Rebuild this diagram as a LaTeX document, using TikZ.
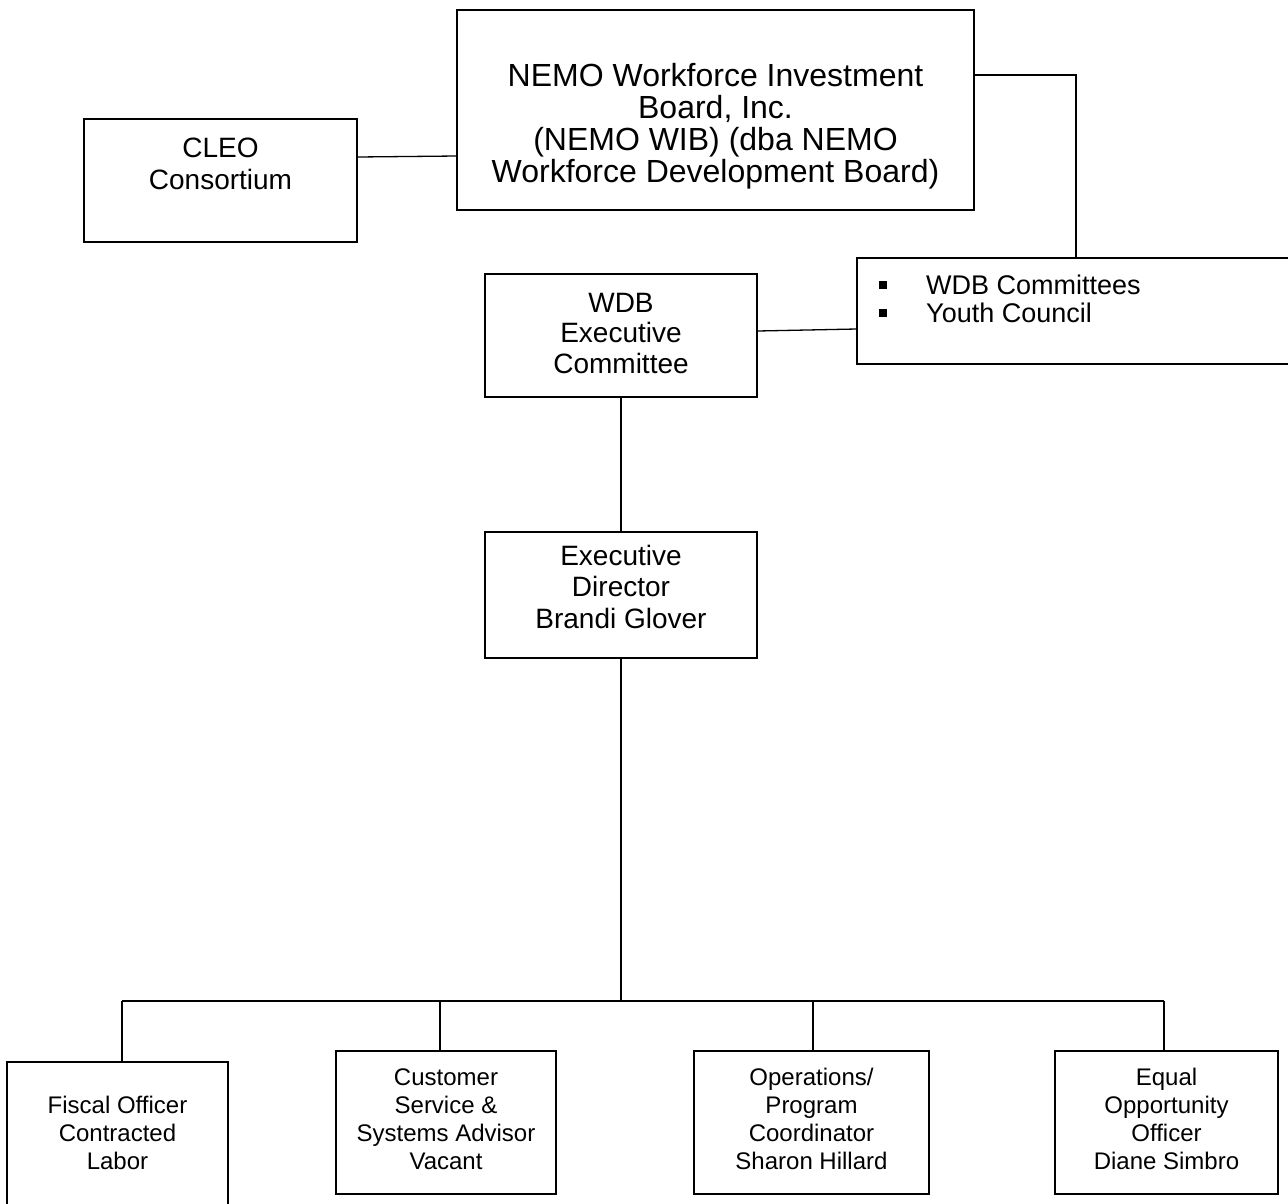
\documentclass[tikz,border=0pt]{standalone}
\usepackage{fontspec}
\setmainfont{Liberation Sans}
\newcommand{\tstrut}{\rule{0pt}{0.8em}}
\newcommand{\sqbul}{\raisebox{5.7pt}{\rule{8pt}{8pt}}}
\begin{document}
\begin{tikzpicture}[x=1pt,y=-1pt,
  box/.style={draw, line width=1.3pt, inner sep=0pt, rectangle},
  conn/.style={draw, line width=1.3pt},
  tx/.style={align=center, inner sep=0pt, anchor=north},
  big/.style={font=\fontsize{32}{32}\selectfont},
  mid/.style={font=\fontsize{28}{31.5}\selectfont},
  sml/.style={font=\fontsize{24}{28}\selectfont}
]
\useasboundingbox (0,0) rectangle (1288,1203);
% boxes
\node[box, minimum width=273, minimum height=123] (cleo) at (220.5,180.5) {};
\node[box, minimum width=517, minimum height=200] (nemo) at (715.5,110) {};
\node[box, minimum width=453, minimum height=106] (wdbc) at (1083.5,311) {};
\node[box, minimum width=272, minimum height=123] (wdbe) at (621,335.5) {};
\node[box, minimum width=272, minimum height=126] (ed) at (621,595) {};
\node[box, minimum width=221, minimum height=153] (fiscal) at (117.5,1138.5) {};
\node[box, minimum width=220, minimum height=143] (cust) at (446,1122.5) {};
\node[box, minimum width=235, minimum height=143] (ops) at (811.5,1122.5) {};
\node[box, minimum width=223, minimum height=143] (eeo) at (1166.5,1122.5) {};
% texts
\node[tx, font=\fontsize{28}{32}\selectfont] (tcleo) at (220.5,134.6) {\tstrut CLEO\\Consortium};
\node[tx, big] (tnemo) at (715.5,60.9) {\tstrut NEMO Workforce Investment\\Board, Inc.\\(NEMO WIB) (dba NEMO\\Workforce Development Board)};
\node[tx, font=\fontsize{28}{30.5}\selectfont] (twdbe) at (621,289.6) {\tstrut WDB\\Executive\\Committee};
\node[tx, mid] (ted) at (621,542.6) {\tstrut Executive\\Director\\Brandi Glover};
\node[anchor=north west, inner sep=0pt, align=left, font=\fontsize{27}{28}\selectfont] (twdbc) at (879,273) {\tstrut\sqbul\hspace{39pt}WDB Committees\\\sqbul\hspace{39pt}Youth Council};
\node[tx, sml] (tfiscal) at (117.5,1094.4) {\tstrut Fiscal Officer\\Contracted\\Labor};
\node[tx, sml] (tcust) at (446,1066.4) {\tstrut Customer\\Service \&\\Systems Advisor\\Vacant};
\node[tx, sml] (tops) at (811.5,1066.4) {\tstrut Operations/\\Program\\Coordinator\\Sharon Hillard};
\node[tx, sml] (teeo) at (1166.5,1066.4) {\tstrut Equal\\Opportunity\\Officer\\Diane Simbro};
% helper coordinates
\coordinate (ya) at (0,157);
\coordinate (yb) at (0,156);
\coordinate (k1) at (1076,75);
\coordinate (yc) at (0,331);
\coordinate (yd) at (0,329);
\coordinate (bus) at (621,1001);
\coordinate (b1) at (122,1001);
\coordinate (b2) at (440,1001);
\coordinate (b3) at (813,1001);
\coordinate (b4) at (1164,1001);
% connectors
\draw[conn] (cleo.east |- ya) -- (nemo.west |- yb);
\draw[conn] (nemo.east |- k1) -- (k1) -- (k1 |- wdbc.north);
\draw[conn] (wdbe.east |- yc) -- (wdbc.west |- yd);
\draw[conn] (wdbe.south) -- (ed.north);
\draw[conn] (ed.south) -- (bus);
\draw[conn] (b1) -- (b4);
\draw[conn] (b1) -- (b1 |- fiscal.north);
\draw[conn] (b2) -- (b2 |- cust.north);
\draw[conn] (b3) -- (b3 |- ops.north);
\draw[conn] (b4) -- (b4 |- eeo.north);
\end{tikzpicture}
\end{document}
